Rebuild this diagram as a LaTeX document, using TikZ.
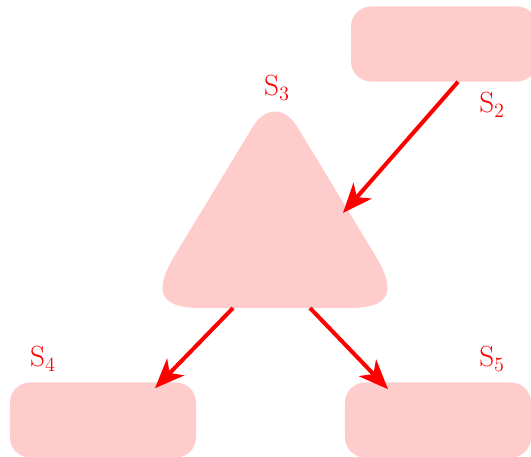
\documentclass[tikz,border=0pt]{standalone}
\usepackage{amsmath}
\usetikzlibrary{calc,arrows.meta}
\definecolor{stred}{RGB}{255,0,0}
\definecolor{stsoft}{RGB}{255,204,204}
\tikzset{
  sbox/.style={fill=stsoft, rounded corners=0.5cm, minimum width=4.65cm,
               minimum height=1.875cm, inner sep=0pt},
  stri/.style={fill=stsoft},
  sarrow/.style={draw=stred, line width=2.85pt,
                 -{Stealth[length=21pt,width=17pt,inset=6pt]}},
  slabel/.style={text=stred, font=\fontsize{20}{24}\selectfont},
}
\begin{document}
\begin{tikzpicture}[x=0.025cm,y=-0.025cm]
  \useasboundingbox (0,0) rectangle (531,457);
  % ====== durumlar ======
  \node[sbox] (s2) at (444,44)  {};
  \node[sbox] (s4) at (103,420) {};
  \node[sbox] (s5) at (438,420) {};
  % ====== ucgen (yuvarlak koseli) ======
  \fill[stri] (275,308) -- (200,308)
     .. controls (153,308) and (157,285) .. (175,255)
     -- (252,128) .. controls (265,106) and (285,106) .. (298,128)
     -- (375,255) .. controls (393,285) and (397,308) .. (350,308) -- cycle;
  \coordinate (s3in)   at (343,213);
  \coordinate (s3out4) at (233,308);
  \coordinate (s3out5) at (310,308);
  % ====== etiketler ======
  \node[slabel] (l3) at (277,88)  {$\mathrm{S}_3$};
  \node[slabel] (l2) at (492,105) {$\mathrm{S}_2$};
  \node[slabel] (l4) at (43,359)  {$\mathrm{S}_4$};
  \node[slabel] (l5) at (492,359) {$\mathrm{S}_5$};
  % ====== oklar ======
  \draw[sarrow] ($(s2.south)+(14,0)$) -- (s3in);
  \draw[sarrow] (s3out4) -- ($(s4.north)+(52,6)$);
  \draw[sarrow] (s3out5) -- ($(s5.north)+(-50,7)$);
\end{tikzpicture}
\end{document}
